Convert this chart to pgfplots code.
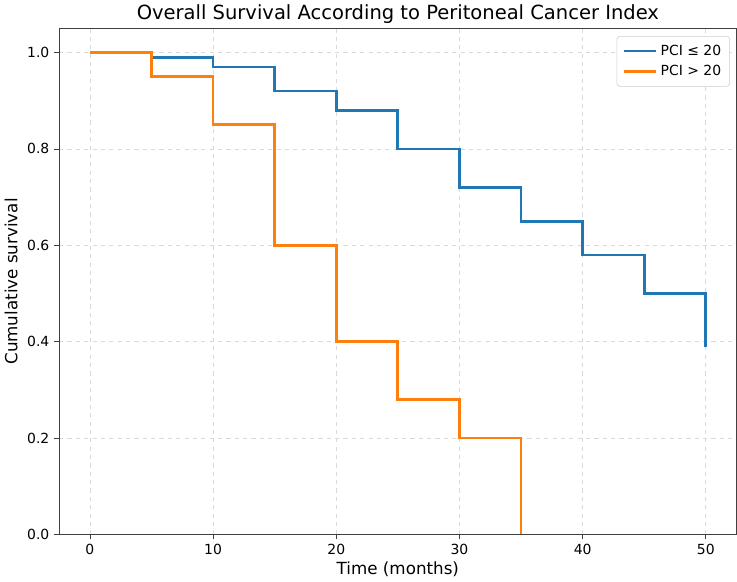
\documentclass[border=0pt]{standalone}
\usepackage{fontspec}
\setmainfont{DejaVu Sans}
\usepackage{pgfplots}
\pgfplotsset{compat=1.18}
\definecolor{tabblue}{HTML}{1F77B4}
\definecolor{taborange}{HTML}{FF7F0E}
\definecolor{gridc}{HTML}{D9D9D9}
\begin{document}
\begin{tikzpicture}
\begin{axis}[
  scale only axis,
  width=486pt, height=363pt,
  xmin=-2.5, xmax=52.5, ymin=0, ymax=1.05,
  xtick={0,10,20,30,40,50},
  ytick={0,0.2,0.4,0.6,0.8,1.0},
  yticklabel style={/pgf/number format/.cd, fixed, fixed zerofill, precision=1},
  /pgf/number format/assume math mode=true,
  tick align=outside, tick pos=left,
  major tick length=3.5pt,
  every tick/.style={black!75, line width=0.6pt},
  axis line style={black!75, line width=0.6pt},
  grid=major,
  major grid style={gridc, dashed, line width=0.6pt},
  ticklabel style={font=\fontsize{10}{12}\selectfont},
  xlabel={Time (months)}, ylabel={Cumulative survival},
  label style={font=\fontsize{12}{14}\selectfont},
  xlabel style={yshift=2pt},
  title={Overall Survival According to Peritoneal Cancer Index},
  title style={font=\fontsize{14}{16}\selectfont, yshift=-6pt},
  legend style={at={(0.99,0.985)}, anchor=north east, draw=black!20, rounded corners=2pt, font=\fontsize{10}{12}\selectfont, inner xsep=4pt, inner ysep=4pt, row sep=2pt},
  legend cell align=left,
  legend image code/.code={\draw[#1, line cap=butt] (0cm,0cm) -- (0.82cm,0cm);},
  clip=false,
]
\addplot[const plot, tabblue, line width=2pt, line join=miter] coordinates {
 (0,1.0) (5,0.99) (10,0.97) (15,0.92) (20,0.88) (25,0.80) (30,0.72) (35,0.65) (40,0.58) (45,0.50) (50,0.39)
};
\addlegendentry{PCI ≤ 20}
\addplot[const plot, taborange, line width=2pt, line join=miter] coordinates {
 (0,1.0) (5,0.95) (10,0.85) (15,0.60) (20,0.40) (25,0.28) (30,0.20) (35,0.0)
};
\addlegendentry{PCI > 20}
\end{axis}
\end{tikzpicture}
\end{document}
